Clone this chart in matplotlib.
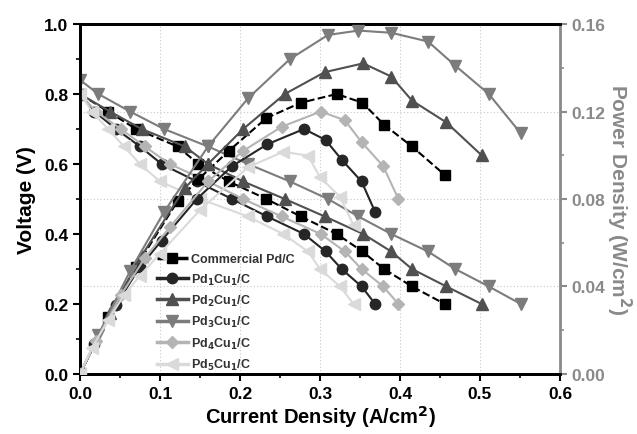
import matplotlib
matplotlib.use("Agg")
import matplotlib.pyplot as plt
from matplotlib.ticker import MultipleLocator

plt.rcParams['font.family'] = ['Liberation Sans', 'DejaVu Sans']
plt.rcParams['font.weight'] = 'bold'

# ---- data ----
labels = ["Commercial Pd/C", "Pd$_1$Cu$_1$/C", "Pd$_2$Cu$_1$/C",
          "Pd$_3$Cu$_1$/C", "Pd$_4$Cu$_1$/C", "Pd$_5$Cu$_1$/C"]

i_comm = [0, 0.035, 0.070, 0.122, 0.148, 0.186, 0.233, 0.276, 0.321, 0.353, 0.380, 0.415, 0.456]
v_comm = [0.80, 0.75, 0.70, 0.65, 0.60, 0.55, 0.50, 0.45, 0.40, 0.35, 0.30, 0.25, 0.20]
p_comm = [0, 0.026, 0.049, 0.079, 0.089, 0.102, 0.117, 0.124, 0.128, 0.124, 0.114, 0.104, 0.091]

i_pd1 = [0, 0.018, 0.045, 0.075, 0.102, 0.146, 0.190, 0.234, 0.280, 0.307, 0.327, 0.352, 0.369]
v_pd1 = [0.80, 0.75, 0.70, 0.65, 0.60, 0.55, 0.50, 0.45, 0.40, 0.35, 0.30, 0.25, 0.20]
p_pd1 = [0, 0.0135, 0.0315, 0.049, 0.061, 0.080, 0.095, 0.105, 0.112, 0.107, 0.098, 0.088, 0.074]

i_pd2 = [0, 0.0375, 0.077, 0.131, 0.160, 0.204, 0.256, 0.306, 0.354, 0.389, 0.415, 0.458, 0.502]
v_pd2 = [0.80, 0.75, 0.70, 0.65, 0.60, 0.55, 0.50, 0.45, 0.40, 0.35, 0.30, 0.25, 0.20]
p_pd2 = [0, 0.028, 0.054, 0.085, 0.096, 0.112, 0.128, 0.138, 0.142, 0.136, 0.125, 0.115, 0.100]

i_pd3 = [0, 0.023, 0.0625, 0.105, 0.160, 0.210, 0.2625, 0.310, 0.348, 0.389, 0.435, 0.469, 0.511, 0.551]
v_pd3 = [0.84, 0.80, 0.75, 0.70, 0.65, 0.60, 0.55, 0.50, 0.45, 0.40, 0.35, 0.30, 0.25, 0.20]
p_pd3 = [0, 0.018, 0.047, 0.074, 0.104, 0.126, 0.144, 0.155, 0.157, 0.156, 0.152, 0.141, 0.128, 0.110]

i_pd4 = [0, 0.020, 0.051, 0.081, 0.112, 0.160, 0.204, 0.252, 0.301, 0.331, 0.352, 0.379, 0.398]
v_pd4 = [0.80, 0.75, 0.70, 0.65, 0.60, 0.55, 0.50, 0.45, 0.40, 0.35, 0.30, 0.25, 0.20]
p_pd4 = [0, 0.015, 0.036, 0.053, 0.067, 0.088, 0.102, 0.113, 0.120, 0.116, 0.106, 0.095, 0.080]

i_pd5 = [0, 0.015, 0.035, 0.055, 0.075, 0.100, 0.150, 0.210, 0.254, 0.285, 0.300, 0.325, 0.342]
v_pd5 = [0.80, 0.75, 0.70, 0.65, 0.60, 0.55, 0.50, 0.45, 0.40, 0.35, 0.30, 0.25, 0.20]
p_pd5 = [0, 0.012, 0.0245, 0.036, 0.045, 0.055, 0.075, 0.0945, 0.1016, 0.0998, 0.090, 0.081, 0.068]

currents = [i_comm, i_pd1, i_pd2, i_pd3, i_pd4, i_pd5]
voltages = [v_comm, v_pd1, v_pd2, v_pd3, v_pd4, v_pd5]
powers = [p_comm, p_pd1, p_pd2, p_pd3, p_pd4, p_pd5]

colors = ["#000000", "#262626", "#505050", "#7c7c7c", "#b4b4b4", "#dadada"]
markers = ["s", "o", "^", "v", "D", "<"]
msizes = [7, 7.5, 8, 8, 6.5, 8]
styles = ["--", "-", "-", "-", "-", "-"]

fig = plt.figure(figsize=(6.37, 4.35), dpi=100)
ax = fig.add_axes([0.1256, 0.138, 0.7535, 0.8045])
ax2 = ax.twinx()

# grid
for gx in [0.1, 0.2, 0.3, 0.4, 0.5]:
    ax.axvline(gx, color="#c8c8c8", lw=0.8, ls=(0, (1, 2)), zorder=0)
for gy in [0.25, 0.5, 0.75]:
    ax.axhline(gy, color="#c8c8c8", lw=0.8, ls=(0, (1, 2)), zorder=0)

order = [5, 4, 0, 1, 2, 3]
for k in order:
    ax.plot(currents[k], voltages[k], color=colors[k], marker=markers[k],
            ms=msizes[k], ls=styles[k], lw=1.5, label=labels[k], zorder=3 + k * 0.1)
    ax2.plot(currents[k], powers[k], color=colors[k], marker=markers[k],
             ms=msizes[k], ls=styles[k], lw=1.5, zorder=3 + k * 0.1)
handles = [l for l in ax.get_lines() if l.get_label() in labels]
handles = sorted(handles, key=lambda l: labels.index(l.get_label()))

ax.set_xlim(0, 0.6)
ax.set_ylim(0, 1.0)
ax2.set_ylim(0, 0.16)

ax.xaxis.set_major_locator(MultipleLocator(0.1))
ax.xaxis.set_minor_locator(MultipleLocator(0.05))
ax.yaxis.set_major_locator(MultipleLocator(0.2))
ax.yaxis.set_minor_locator(MultipleLocator(0.1))
ax2.yaxis.set_major_locator(MultipleLocator(0.04))
ax2.yaxis.set_minor_locator(MultipleLocator(0.02))

ax.xaxis.set_major_formatter(plt.FuncFormatter(lambda v, p: f"{v:.1f}"))
ax.yaxis.set_major_formatter(plt.FuncFormatter(lambda v, p: f"{v:.1f}"))
ax2.yaxis.set_major_formatter(plt.FuncFormatter(lambda v, p: f"{v:.2f}"))

ax.tick_params(axis='both', which='major', direction='out', length=5, width=1.5,
               labelsize=12.5, colors='black')
ax.tick_params(axis='both', which='minor', direction='out', length=3, width=1.2)
ax2.tick_params(axis='y', which='major', direction='out', length=5, width=1.5,
                labelsize=12.5, colors='#8a8a8a')
ax2.tick_params(axis='y', which='minor', direction='out', length=3, width=1.2,
                colors='#8a8a8a')
for lab in ax.get_xticklabels() + ax.get_yticklabels() + ax2.get_yticklabels():
    lab.set_fontweight('bold')

for s in ['left', 'bottom', 'top']:
    ax.spines[s].set_linewidth(2.0)
    ax2.spines[s].set_linewidth(2.0)
ax2.spines['right'].set_color('#8a8a8a')
ax2.spines['right'].set_linewidth(2.0)
ax.spines['right'].set_visible(False)

ax.set_xlabel("Current Density (A/cm$^{\\mathbf{2}}$)", fontsize=14.5, fontweight='bold', labelpad=2)
ax.set_ylabel("Voltage (V)", fontsize=15, fontweight='bold', labelpad=6)
ax2.set_ylabel("Power Density (W/cm$^{\\mathbf{2}}$)", fontsize=15, fontweight='bold',
               color='#8a8a8a', rotation=270, labelpad=20)

leg = ax.legend(handles=handles, loc='upper left', bbox_to_anchor=(0.16, 0.345),
                frameon=False, fontsize=9, handlelength=2.5, handletextpad=0.2,
                labelspacing=0.5, borderpad=0, borderaxespad=0)
for t in leg.get_texts():
    t.set_fontweight('bold')
    t.set_color('#333333')
for lh in leg.get_lines():
    lh.set_linewidth(2.5)

fig.savefig("out.png", dpi=100)
